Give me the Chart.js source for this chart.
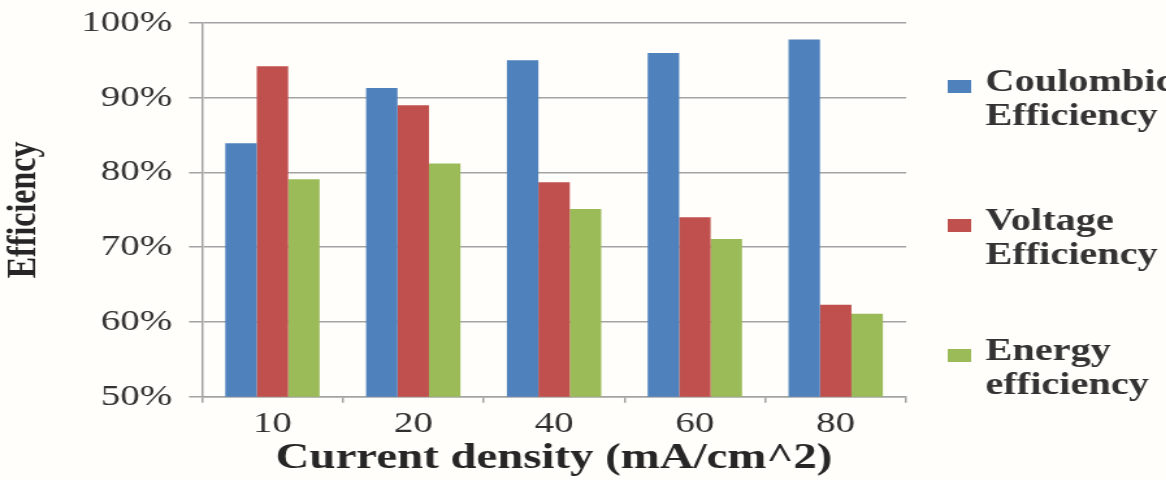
<!DOCTYPE html>
<html lang="en">
<head>
<meta charset="UTF-8">
<title>Efficiency vs current density</title>
<script src="https://cdn.jsdelivr.net/npm/chart.js@4.4.0/dist/chart.umd.min.js"></script>
<style>
  html, body { margin: 0; padding: 0; background: #fffefa; overflow: hidden; }
  /* the source picture is stretched sideways, so draw narrow and widen it */
  #wrap { width: 897px; height: 480px; transform: scaleX(1.3); transform-origin: 0 0; filter: blur(0.45px); }
</style>
</head>
<body>
<div id="wrap"><canvas id="chart"></canvas></div>
<script>
const densities = ['10', '20', '40', '60', '80'];
const coulombic = [83.9, 91.3, 95.0, 96.0, 97.8];
const voltage = [94.2, 89.0, 78.7, 74.0, 62.3];
const energy = [79.1, 81.2, 75.1, 71.1, 61.1];
const seriesNames = ['Coulombic Efficiency', 'Voltage Efficiency', 'Energy efficiency'];
const legendLines = [['Coulombic', 'Efficiency'], ['Voltage', 'Efficiency'], ['Energy', 'efficiency']];
const yTicks = [50, 60, 70, 80, 90, 100];

const colors = ['#4f81bd', '#c0504d', '#9bbb59'];
const serif = '"Liberation Serif", "Times New Roman", serif';
const gridColor = '#a3a3a3';

// legend drawn by hand: two-line labels on the right
const sideLegend = {
    id: 'sideLegend',
    afterDraw(chart) {
        const ctx = chart.ctx;
        const rows = [83, 222, 352];
        ctx.save();
        ctx.font = 'bold 31px ' + serif;
        ctx.textBaseline = 'middle';
        chart.data.datasets.forEach((ds, i) => {
            const y = rows[i];
            ctx.fillStyle = ds.backgroundColor;
            ctx.fillRect(729, y - 3, 18, 13);
            ctx.fillStyle = '#333333';
            legendLines[i].forEach((t, j) => ctx.fillText(t, 758, y + j * 34));
        });
        ctx.restore();
    }
};

new Chart(document.getElementById('chart'), {
    type: 'bar',
    data: {
        labels: densities,
        datasets: [
            { label: seriesNames[0], data: coulombic, backgroundColor: colors[0] },
            { label: seriesNames[1], data: voltage, backgroundColor: colors[1] },
            { label: seriesNames[2], data: energy, backgroundColor: colors[2] }
        ]
    },
    options: {
        responsive: true,
        maintainAspectRatio: false,
        animation: false,
        layout: { padding: { top: 23, right: 200, left: 0, bottom: 0 } },
        datasets: { bar: { categoryPercentage: 0.67, barPercentage: 1.0 } },
        plugins: {
            legend: { display: false },
            tooltip: { enabled: false }
        },
        scales: {
            x: {
                afterFit: (s) => { s.height = 83.3; },
                grid: { display: true, drawOnChartArea: false, drawTicks: true, tickLength: 6, color: gridColor, lineWidth: 1.5 },
                border: { display: true, color: gridColor, width: 1.5 },
                ticks: { color: '#2f2f2f', font: { family: serif, size: 30 }, padding: 3 },
                title: {
                    display: true,
                    text: 'Current density (mA/cm^2)',
                    color: '#262626',
                    font: { family: serif, size: 36, weight: 'bold' },
                    padding: 0
                }
            },
            y: {
                min: 50,
                max: 100,
                afterFit: (s) => { s.width = 155.4; s.paddingTop = 0; s.paddingBottom = 0; },
                afterBuildTicks: (s) => { s.ticks = yTicks.map(v => ({ value: v })); },
                grid: { color: gridColor, lineWidth: 1.5, drawTicks: true, tickLength: 10 },
                border: { display: true, color: gridColor, width: 1.5 },
                ticks: {
                    color: '#333333',
                    font: { family: serif, size: 30 },
                    padding: 13,
                    callback: (v) => v + '%'
                },
                title: {
                    display: true,
                    text: 'Efficiency',
                    color: '#262626',
                    font: { family: serif, size: 32, weight: 'bold' },
                    padding: 0
                }
            }
        }
    },
    plugins: [sideLegend]
});
</script>
</body>
</html>
